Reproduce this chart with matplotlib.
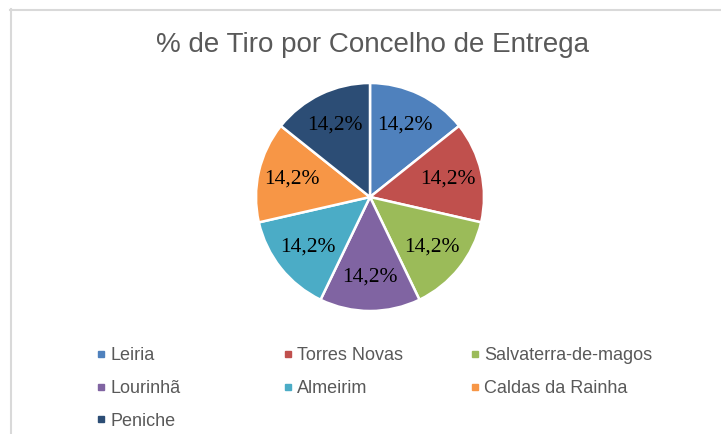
import matplotlib
matplotlib.use("Agg")
import matplotlib.pyplot as plt
from matplotlib.lines import Line2D
import numpy as np

# --- datos ---
concelhos = ["Leiria", "Torres Novas", "Salvaterra-de-magos", "Lourinhã",
             "Almeirim", "Caldas da Rainha", "Peniche"]
percentagens = [14.2, 14.2, 14.2, 14.2, 14.2, 14.2, 14.2]
cores = ["#4F81BD", "#C0504D", "#9BBB59", "#8064A2",
         "#4BACC6", "#F79646", "#2C4D75"]
titulo = "% de Tiro por Concelho de Entrega"

W, H = 721, 434
fig = plt.figure(figsize=(W / 100, H / 100), dpi=100)
fig.patch.set_facecolor("white")

# moldura cinzenta (estilo Excel)
fig.add_artist(Line2D([10.5 / W, 10.5 / W], [0, 1 - 9 / H], color="#D9D9D9",
                      linewidth=1.5, transform=fig.transFigure))
fig.add_artist(Line2D([10 / W, 1], [1 - 9.5 / H, 1 - 9.5 / H], color="#D9D9D9",
                      linewidth=1.5, transform=fig.transFigure))

# --- pizza ---
cx, cy, r = 370, 197, 114
lado = 2 * r * 1.25
ax = fig.add_axes([(cx - lado / 2) / W, (H - cy - lado / 2) / H, lado / W, lado / H])
wedges, _ = ax.pie(percentagens, colors=cores, startangle=90, counterclock=False,
                   radius=1, wedgeprops=dict(edgecolor="white", linewidth=1.8))
ax.set_aspect("equal")

for w, v in zip(wedges, percentagens):
    ang = np.deg2rad((w.theta1 + w.theta2) / 2)
    ax.text(0.70 * np.cos(ang), 0.70 * np.sin(ang), f"{v:.1f}%".replace(".", ","),
            ha="center", va="center", fontsize=15.5, family="Liberation Serif",
            color="black")

# --- título ---
fig.text(372 / W, 1 - 45 / H, titulo, ha="center", va="center", fontsize=20,
         family="Liberation Sans", color="#595959")

# --- legenda: 3 colunas, preenchidas por linha ---
col_x = [96, 283, 470]
for c in range(3):
    idx = list(range(c, len(concelhos), 3))
    handles = [Line2D([], [], marker="s", linestyle="none", markersize=4.5,
                      color=cores[i]) for i in idx]
    leg = fig.legend(handles, [concelhos[i] for i in idx],
                     loc="upper left", bbox_to_anchor=(col_x[c] / W, 1 - 347 / H),
                     frameon=False, prop={"family": "Liberation Sans", "size": 13},
                     handlelength=0.55, handletextpad=0.25, labelspacing=0.88,
                     borderpad=0, borderaxespad=0, labelcolor="#595959")

fig.savefig("out.png", dpi=100, facecolor="white")
